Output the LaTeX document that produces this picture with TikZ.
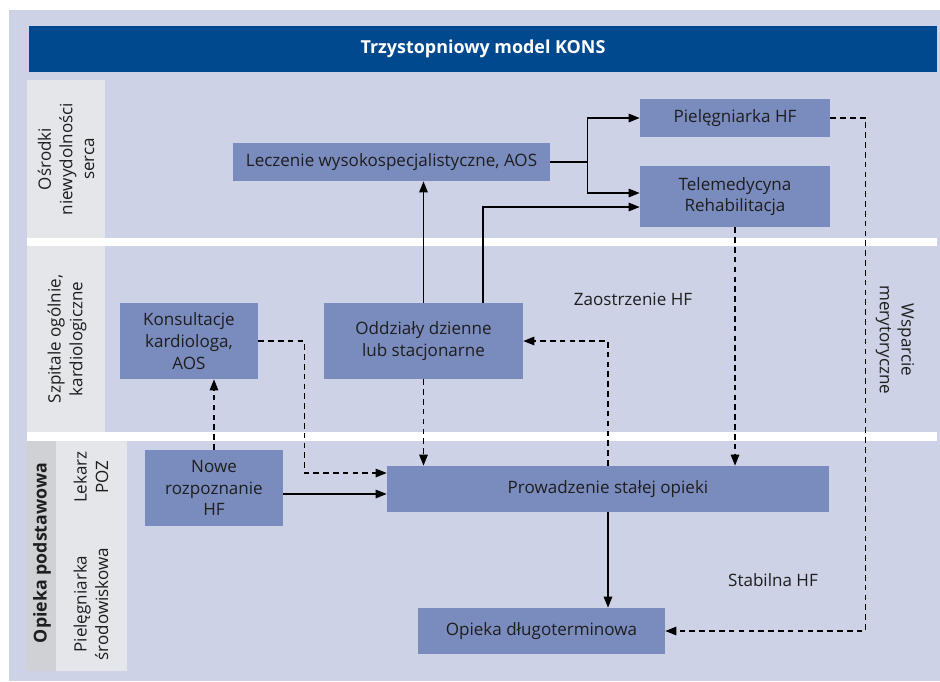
\documentclass[tikz,border=0pt]{standalone}
\usepackage{fontspec}
\setmainfont{Open Sans}
\usetikzlibrary{arrows.meta,calc}

\definecolor{tlo}{HTML}{CDD2E6}
\definecolor{naglowek}{HTML}{00498F}
\definecolor{pasek}{HTML}{E5E6EA}
\definecolor{pasekc}{HTML}{D0D1D5}
\definecolor{pole}{HTML}{7A8BBE}
\definecolor{tekst}{HTML}{1E1E1E}

\tikzset{
  box/.style={fill=pole, text=tekst, align=center, inner sep=0pt, font=\fontsize{9.7}{12.3}\selectfont},
  lane/.style={rotate=90, align=center, text=tekst, font=\fontsize{9.7}{12.3}\selectfont},
  opis/.style={text=tekst, font=\fontsize{9.7}{12.3}\selectfont},
  arr/.style={-{Triangle[length=2.2mm,width=1.7mm]}, line width=0.75pt},
  darr/.style={arr, dash pattern=on 3.2pt off 2.4pt},
}

\begin{document}
\begin{tikzpicture}[x=0.02cm, y=-0.02cm]
    \useasboundingbox (0,0) rectangle (940,681);
    % tlo i pasy
    \fill[white] (0,0) rectangle (940,681);
    \fill[tlo] (9,10) rectangle (940,681);
    \fill[pasek] (27,80) rectangle (105,238);
    \fill[pasek] (27,246) rectangle (105,432);
    \fill[pasekc] (27,441) rectangle (56,671);
    \fill[pasek] (56,441) rectangle (127,671);
    \fill[white] (27,238) rectangle (937,246);
    \fill[white] (27,432) rectangle (937,441);

    \node[fill=naglowek, text=white, minimum width=18.16cm, minimum height=0.92cm, inner sep=0pt,
          font=\fontsize{10.2}{12}\selectfont\bfseries] (tytul) at (483,49) {Trzystopniowy model KONS};

    % etykiety poziomow
    \node[lane] (osrodki) at (66,159) {Ośrodki\\niewydolności\\serca};
    \node[lane] (szpitale) at (67,339) {Szpitale ogólnie,\\kardiologiczne};
    \node[lane, font=\fontsize{10.1}{12}\selectfont\bfseries] (podst) at (42,553) {Opieka podstawowa};
    \node[lane] (lekarz) at (91,477) {Lekarz\\POZ};
    \node[lane] (pielsr) at (91,604) {Pielęgniarka\\środowiskowa};

    % bloki
    \node[box, minimum width=6.34cm, minimum height=0.76cm] (lecz) at (391.5,162) {Leczenie wysokospecjalistyczne, AOS};
    \node[box, minimum width=3.8cm, minimum height=0.76cm] (piel) at (735,118) {Pielęgniarka HF};
    \node[box, minimum width=3.8cm, minimum height=1.22cm] (tele) at (735,196.5) {Telemedycyna\\Rehabilitacja};
    \node[box, minimum width=2.76cm, minimum height=1.52cm] (kons) at (189,341) {Konsultacje\\kardiologa,\\AOS};
    \node[box, minimum width=3.98cm, minimum height=1.52cm] (odd) at (423.5,341) {Oddziały dzienne\\lub stacjonarne};
    \node[box, minimum width=2.76cm, minimum height=1.52cm] (nowe) at (214,488) {Nowe\\rozpoznanie\\HF};
    \node[box, minimum width=8.84cm, minimum height=0.92cm] (prow) at (608,489) {Prowadzenie stałej opieki};
    \node[box, minimum width=4.94cm, minimum height=0.92cm] (opk) at (541.5,631) {Opieka długoterminowa};

    \node[opis] (zaostr) at (633,299) {Zaostrzenie HF};
    \node[opis] (stab) at (773,580) {Stabilna HF};
    \node[opis, rotate=-90, align=center] (wsp) at (895,340) {Wsparcie\\merytoryczne};

    % polaczenia
    \coordinate (rozgal) at ($(lecz.east)+(37,0)$);
    \draw[line width=0.75pt] (lecz.east) -- (rozgal);
    \draw[arr] (rozgal) |- (piel.west);
    \draw[arr] (rozgal) |- ($(tele.west)+(0,-3.5)$);
    \draw[arr] (odd.north) -- (odd.north |- lecz.south);
    \draw[arr] ($(odd.north)+(59.5,0)$) |- ($(tele.west)+(0,10.5)$);
    \draw[darr] (odd.south) -- (odd.south |- prow.north);
    \draw[darr] (kons.east) -- ($(kons.east)+(46,0)$) |- ($(prow.west)+(0,-16)$);
    \draw[darr] (nowe.north) -- (nowe.north |- kons.south);
    \draw[arr] ($(nowe.east)+(0,6)$) -- ($(prow.west)+(0,5)$);
    \draw[darr] (prow.north) |- (odd.east);
    \draw[darr] (tele.south) -- (tele.south |- prow.north);
    \draw[darr] (piel.east) -- ++(35,0) |- (opk.east);
    \draw[arr] (prow.south) -- (prow.south |- opk.north);
\end{tikzpicture}
\end{document}
